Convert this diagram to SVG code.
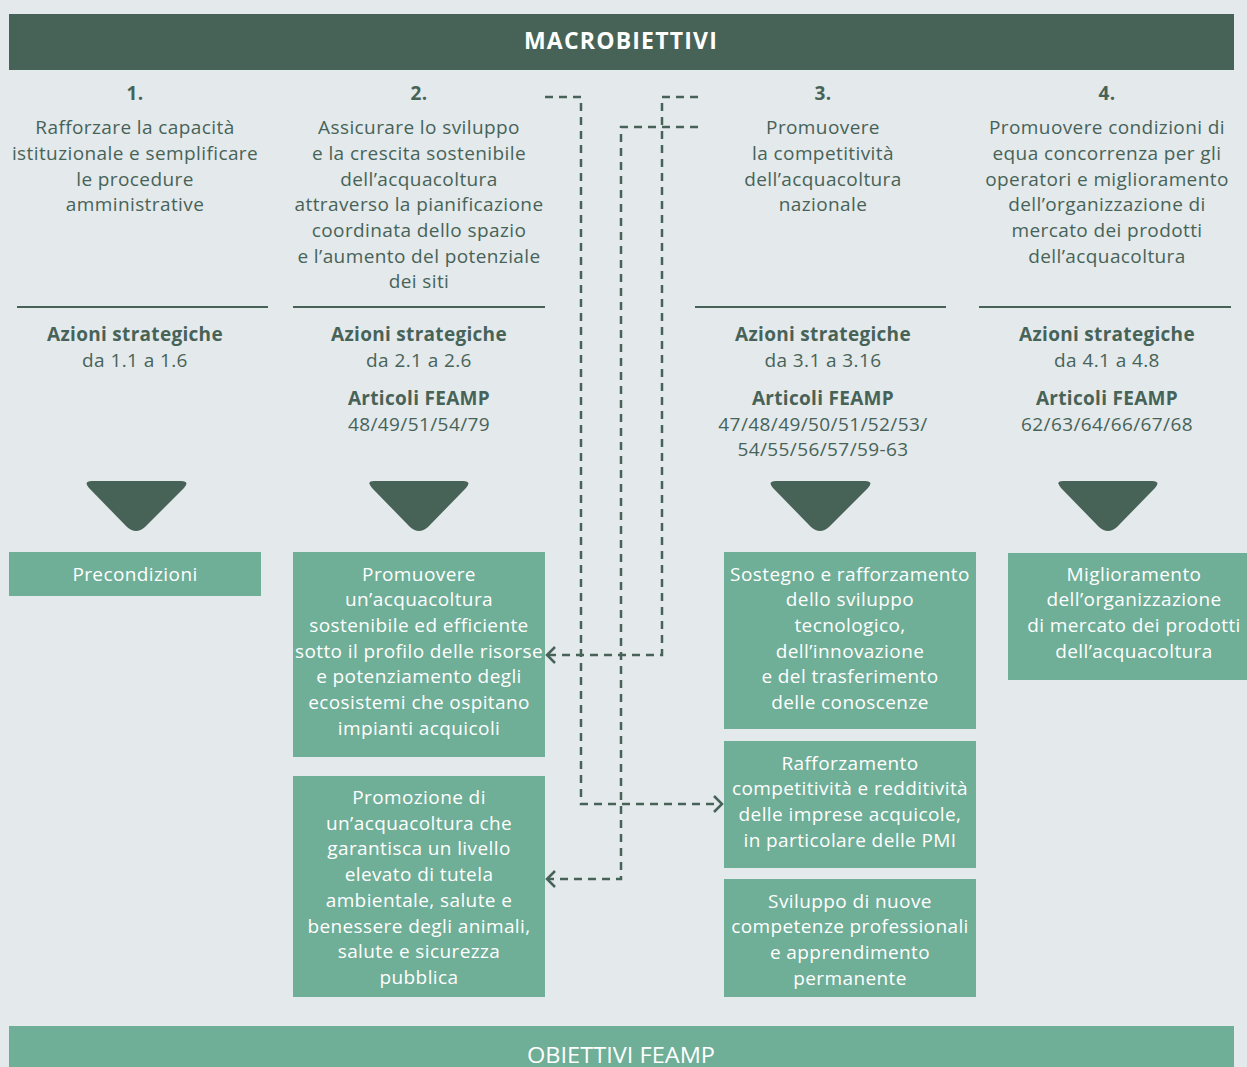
<svg xmlns="http://www.w3.org/2000/svg" width="1247" height="1067" viewBox="0 0 1247 1067">
<defs>
<style>
.t{font-family:"Open Sans",Lato,sans-serif;font-size:19px;letter-spacing:0.4px;fill:#476358;text-anchor:middle}
.b{font-weight:bold;letter-spacing:0.3px}
.w{fill:#ffffff}
.box{fill:#6fae97}
.dk{fill:#476358}
.sep{stroke:#476358;stroke-width:2}
.con{fill:none;stroke:#476358;stroke-width:2.5;stroke-dasharray:8 6}
.ah{fill:none;stroke:#476358;stroke-width:2.5}
</style>
</defs>
<rect width="1247" height="1067" fill="#e4e9ec"/>
<g id="header">
<rect x="9" y="14" width="1225" height="56" class="dk"/>
<text x="621" y="49" class="t b w" style="font-size:23px;letter-spacing:1.2px">MACROBIETTIVI</text>
</g>
<g id="macro1">
<text x="135" y="100" class="t b">1.</text>
<text class="t"><tspan x="135" y="134">Rafforzare la capacità</tspan><tspan x="135" y="160">istituzionale e semplificare</tspan><tspan x="135" y="186">le procedure</tspan><tspan x="135" y="211">amministrative</tspan></text>
<line x1="17" y1="307" x2="268" y2="307" class="sep"/>
<text x="135" y="341" class="t b">Azioni strategiche</text>
<text x="135" y="367" class="t">da 1.1 a 1.6</text>
<path d="M92,481 H181 Q190,481 184,488 L145,527 Q136,535 127,527 L89,488 Q83,481 92,481 Z" class="dk"/>
</g>
<g id="macro2">
<text x="419" y="100" class="t b">2.</text>
<text class="t"><tspan x="419" y="134">Assicurare lo sviluppo</tspan><tspan x="419" y="160">e la crescita sostenibile</tspan><tspan x="419" y="186">dell’acquacoltura</tspan><tspan x="419" y="211">attraverso la pianificazione</tspan><tspan x="419" y="237">coordinata dello spazio</tspan><tspan x="419" y="263">e l’aumento del potenziale</tspan><tspan x="419" y="288">dei siti</tspan></text>
<line x1="293" y1="307" x2="545" y2="307" class="sep"/>
<text x="419" y="341" class="t b">Azioni strategiche</text>
<text x="419" y="367" class="t">da 2.1 a 2.6</text>
<text x="419" y="405" class="t b">Articoli FEAMP</text>
<text x="419" y="431" class="t">48/49/51/54/79</text>
<path d="M374,481 H463 Q472,481 466,488 L428,527 Q419,535 410,527 L372,488 Q366,481 374,481 Z" class="dk"/>
</g>
<g id="macro3">
<text x="823" y="100" class="t b">3.</text>
<text class="t"><tspan x="823" y="134">Promuovere</tspan><tspan x="823" y="160">la competitività</tspan><tspan x="823" y="186">dell’acquacoltura</tspan><tspan x="823" y="211">nazionale</tspan></text>
<line x1="695" y1="307" x2="946" y2="307" class="sep"/>
<text x="823" y="341" class="t b">Azioni strategiche</text>
<text x="823" y="367" class="t">da 3.1 a 3.16</text>
<text x="823" y="405" class="t b">Articoli FEAMP</text>
<text class="t"><tspan x="823" y="431">47/48/49/50/51/52/53/</tspan><tspan x="823" y="456">54/55/56/57/59-63</tspan></text>
<path d="M776,481 H865 Q874,481 868,488 L829,527 Q820,535 811,527 L773,488 Q767,481 776,481 Z" class="dk"/>
</g>
<g id="macro4">
<text x="1107" y="100" class="t b">4.</text>
<text class="t"><tspan x="1107" y="134">Promuovere condizioni di</tspan><tspan x="1107" y="160">equa concorrenza per gli</tspan><tspan x="1107" y="186">operatori e miglioramento</tspan><tspan x="1107" y="211">dell’organizzazione di</tspan><tspan x="1107" y="237">mercato dei prodotti</tspan><tspan x="1107" y="263">dell’acquacoltura</tspan></text>
<line x1="979" y1="307" x2="1231" y2="307" class="sep"/>
<text x="1107" y="341" class="t b">Azioni strategiche</text>
<text x="1107" y="367" class="t">da 4.1 a 4.8</text>
<text x="1107" y="405" class="t b">Articoli FEAMP</text>
<text x="1107" y="431" class="t">62/63/64/66/67/68</text>
<path d="M1063,481 H1152 Q1161,481 1155,488 L1117,527 Q1108,535 1099,527 L1061,488 Q1055,481 1063,481 Z" class="dk"/>
</g>
<g id="precondizioni">
<rect x="9" y="552" width="252" height="44" class="box"/>
<text x="135" y="581" class="t w">Precondizioni</text>
</g>
<g id="obj2a">
<rect x="293" y="552" width="252" height="205" class="box"/>
<text class="t w"><tspan x="419" y="581">Promuovere</tspan><tspan x="419" y="606">un’acquacoltura</tspan><tspan x="419" y="632">sostenibile ed efficiente</tspan><tspan x="419" y="658">sotto il profilo delle risorse</tspan><tspan x="419" y="683">e potenziamento degli</tspan><tspan x="419" y="709">ecosistemi che ospitano</tspan><tspan x="419" y="735">impianti acquicoli</tspan></text>
</g>
<g id="obj2b">
<rect x="293" y="776" width="252" height="221" class="box"/>
<text class="t w"><tspan x="419" y="804">Promozione di</tspan><tspan x="419" y="830">un’acquacoltura che</tspan><tspan x="419" y="855">garantisca un livello</tspan><tspan x="419" y="881">elevato di tutela</tspan><tspan x="419" y="907">ambientale, salute e</tspan><tspan x="419" y="933">benessere degli animali,</tspan><tspan x="419" y="958">salute e sicurezza</tspan><tspan x="419" y="984">pubblica</tspan></text>
</g>
<g id="obj3a">
<rect x="724" y="552" width="252" height="177" class="box"/>
<text class="t w"><tspan x="850" y="581">Sostegno e rafforzamento</tspan><tspan x="850" y="606">dello sviluppo</tspan><tspan x="850" y="632">tecnologico,</tspan><tspan x="850" y="658">dell’innovazione</tspan><tspan x="850" y="683">e del trasferimento</tspan><tspan x="850" y="709">delle conoscenze</tspan></text>
</g>
<g id="obj3b">
<rect x="724" y="741" width="252" height="127" class="box"/>
<text class="t w"><tspan x="850" y="770">Rafforzamento</tspan><tspan x="850" y="795">competitività e redditività</tspan><tspan x="850" y="821">delle imprese acquicole,</tspan><tspan x="850" y="847">in particolare delle PMI</tspan></text>
</g>
<g id="obj3c">
<rect x="724" y="879" width="252" height="118" class="box"/>
<text class="t w"><tspan x="850" y="908">Sviluppo di nuove</tspan><tspan x="850" y="933">competenze professionali</tspan><tspan x="850" y="959">e apprendimento</tspan><tspan x="850" y="985">permanente</tspan></text>
</g>
<g id="obj4">
<rect x="1008" y="553" width="239" height="127" class="box"/>
<text class="t w"><tspan x="1134" y="581">Miglioramento</tspan><tspan x="1134" y="606">dell’organizzazione</tspan><tspan x="1134" y="632">di mercato dei prodotti</tspan><tspan x="1134" y="658">dell’acquacoltura</tspan></text>
</g>
<g id="footer">
<rect x="9" y="1026" width="1225" height="41" class="box"/>
<text x="621" y="1063" class="t w" style="font-size:21px;letter-spacing:0" textLength="188" lengthAdjust="spacingAndGlyphs">OBIETTIVI FEAMP</text>
</g>
<g id="connectors">
<path d="M545,97 H581 V804 H720" class="con"/>
<path d="M714,796 L722,804 L714,812" class="ah"/>
<path d="M698,97 H662 V655 H548" class="con"/>
<path d="M555,647 L547,655 L555,663" class="ah"/>
<path d="M698,127 H621 V879 H548" class="con"/>
<path d="M555,871 L547,879 L555,887" class="ah"/>
</g>
</svg>
